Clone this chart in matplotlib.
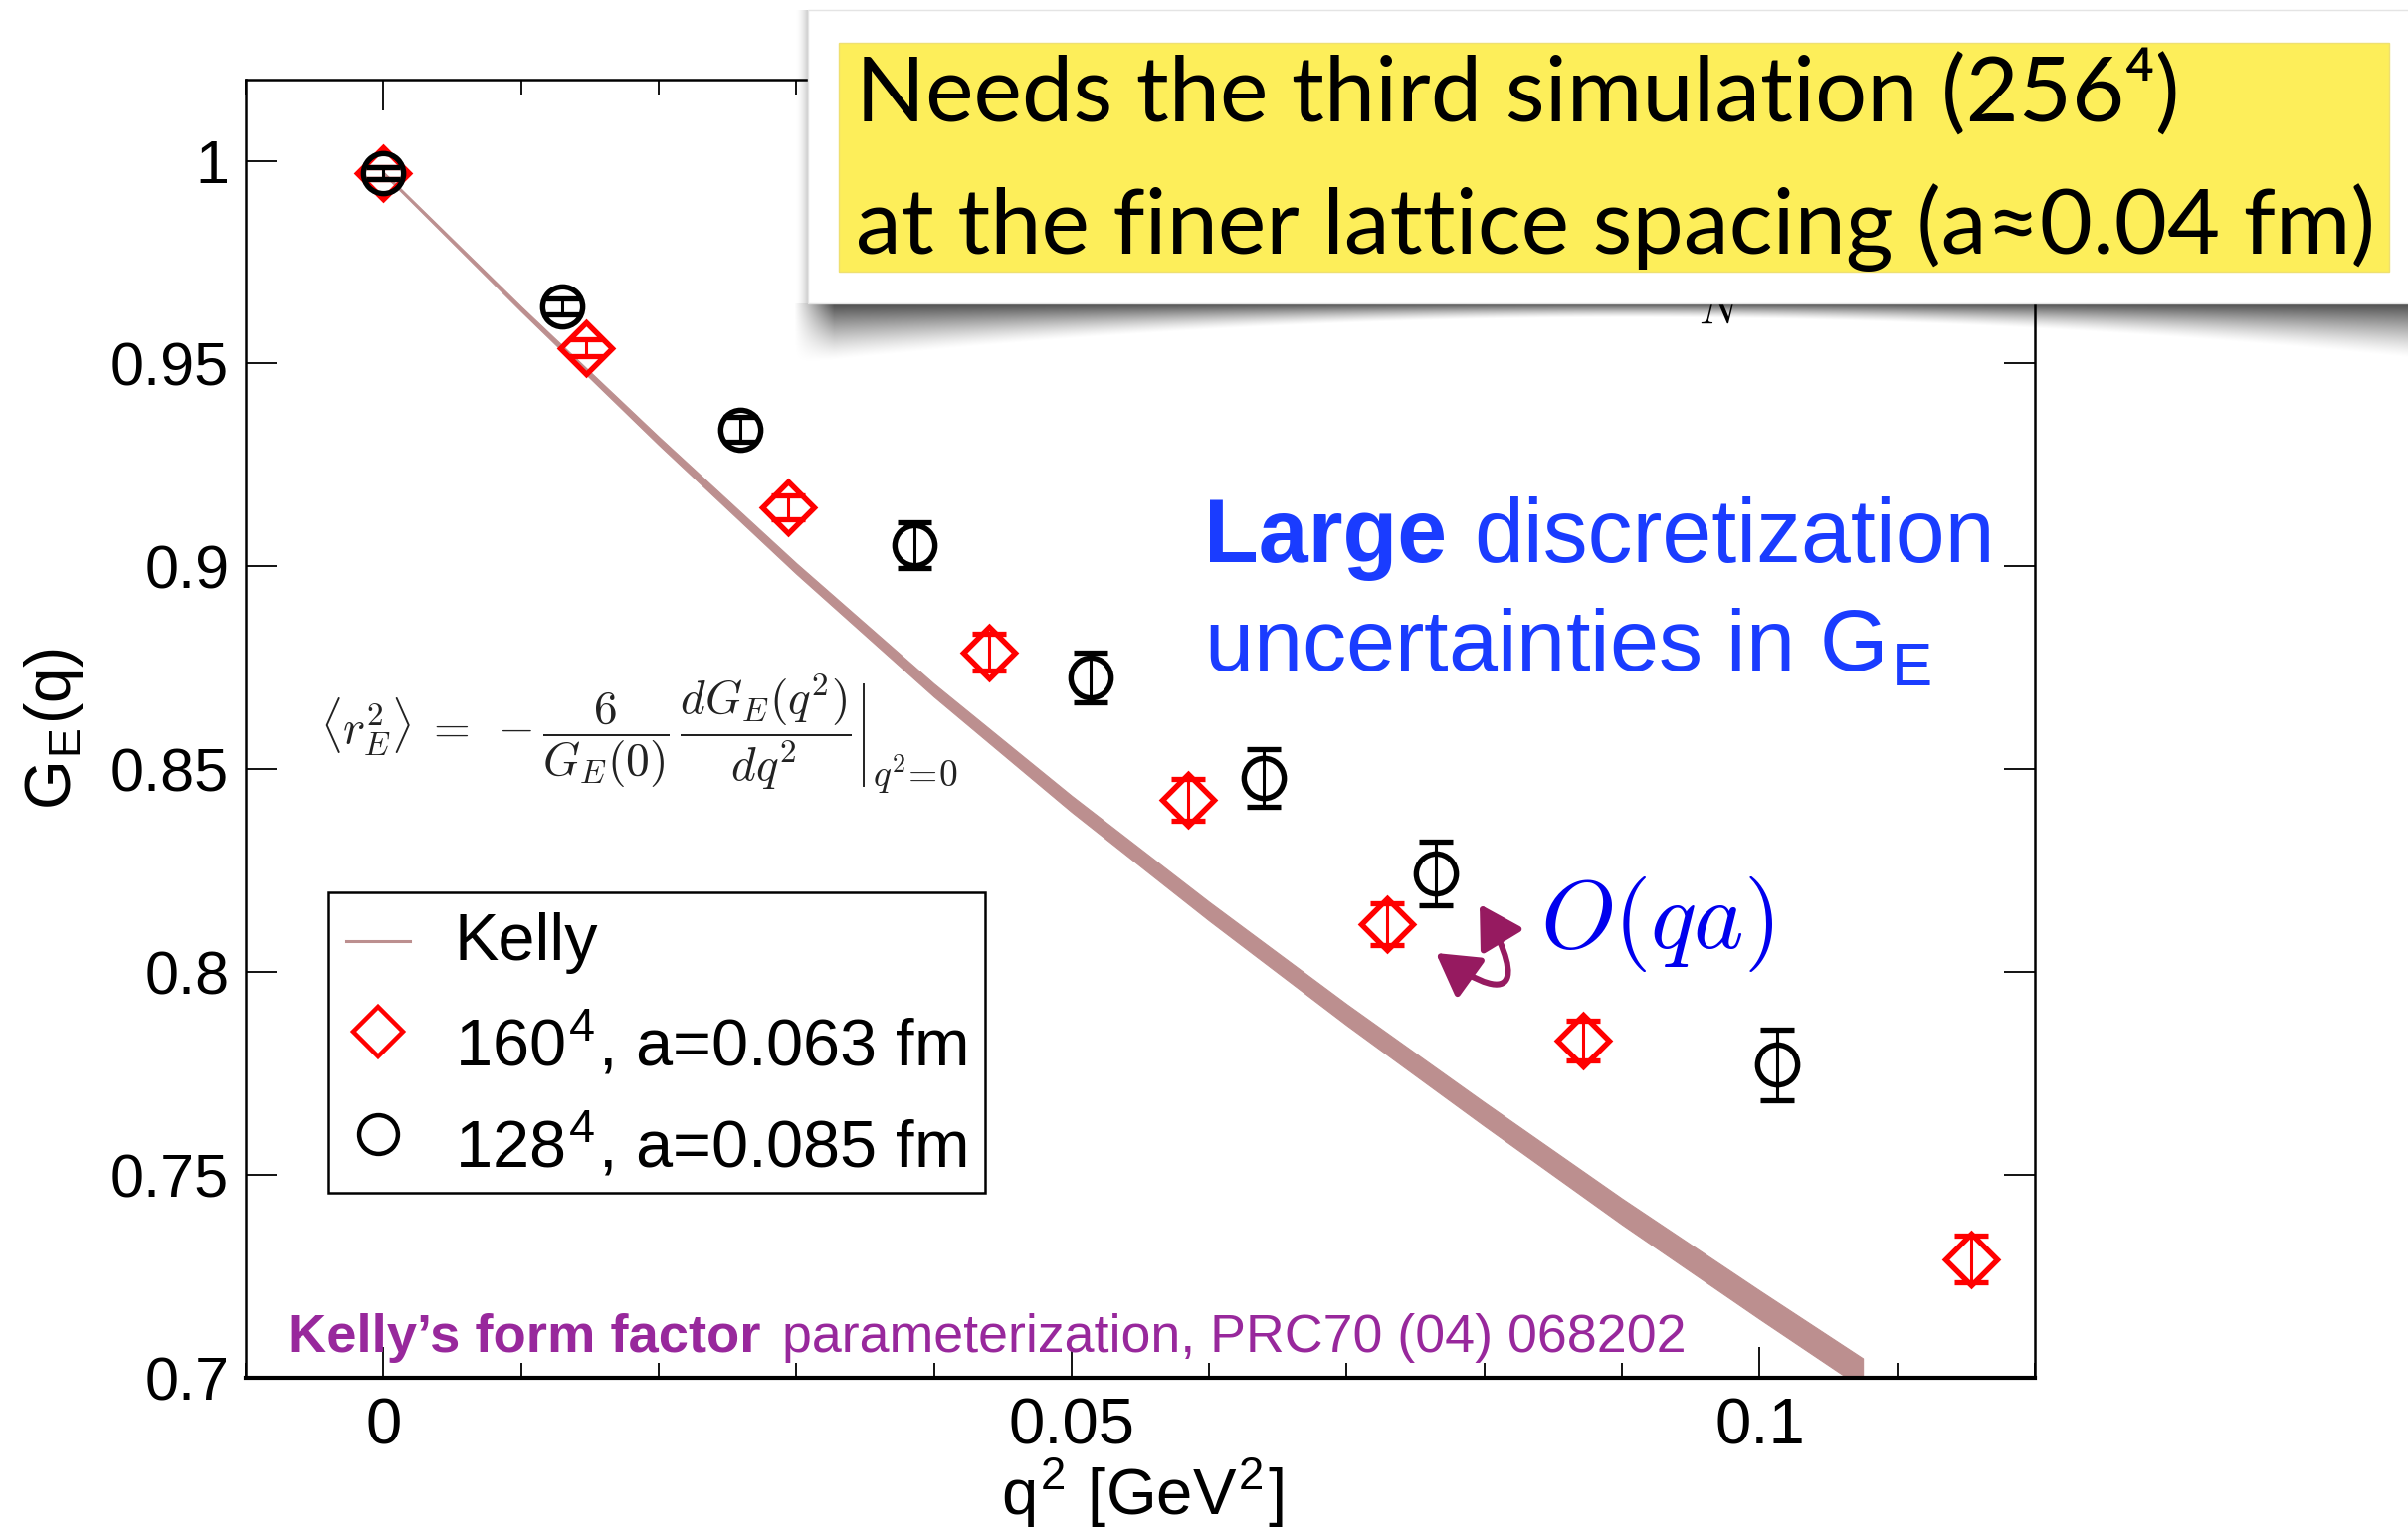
import numpy as np
import matplotlib
matplotlib.use("Agg")
import matplotlib.pyplot as plt
from matplotlib.patches import Rectangle, FancyArrowPatch
from matplotlib.lines import Line2D
from matplotlib.path import Path
from matplotlib.ticker import FixedLocator, MultipleLocator

plt.rcParams['font.family'] = ['Liberation Sans', 'DejaVu Sans']
plt.rcParams['mathtext.fontset'] = 'cm'

# ---------------- data ----------------
# Kelly parameterization (central value and half-width of the band)
kelly_q2 = [0.0, 0.01, 0.02, 0.03, 0.04, 0.05, 0.06, 0.07, 0.08, 0.09, 0.10, 0.1075]
kelly_ge = [0.997, 0.9635, 0.931, 0.8995, 0.8695, 0.8415, 0.815, 0.7895, 0.765, 0.741, 0.718, 0.7011]
kelly_err = [0.0003, 0.0006, 0.0010, 0.0013, 0.0016, 0.0020, 0.0023, 0.0026, 0.0029, 0.0032, 0.0035, 0.0037]

# 160^4 lattice, a = 0.063 fm
q2_160 = [0.0, 0.0147, 0.0294, 0.0440, 0.0585, 0.0729, 0.0872, 0.1154]
ge_160 = [0.997, 0.9539, 0.9146, 0.8788, 0.8424, 0.8118, 0.7831, 0.7293]
err_160 = [0.0015, 0.0020, 0.0030, 0.0045, 0.0052, 0.0052, 0.0050, 0.0057]

# 128^4 lattice, a = 0.085 fm
q2_128 = [0.0, 0.0130, 0.0259, 0.0386, 0.0514, 0.0640, 0.0765, 0.1013]
ge_128 = [0.997, 0.9641, 0.9338, 0.9053, 0.8726, 0.8479, 0.8243, 0.7772]
err_128 = [0.0015, 0.0020, 0.0030, 0.0057, 0.0062, 0.0071, 0.0078, 0.0087]

x_ticks = [0.0, 0.05, 0.1]
x_ticklabels = ['0', '0.05', '0.1']
y_ticks = [0.7, 0.75, 0.8, 0.85, 0.9, 0.95, 1.0]
y_ticklabels = ['0.7', '0.75', '0.8', '0.85', '0.9', '0.95', '1']
legend_labels = ['Kelly',
                 r'160$^{\mathregular{4}}$, a=0.063 fm',
                 r'128$^{\mathregular{4}}$, a=0.085 fm']

KELLY_C = '#bc8f8f'
PURPLE = '#98289c'
BLUE = '#1a3cff'
FORMULA_C = '#222222'

# ---------------- figure ----------------
W, H, DPI = 2420, 1541, 100
fig = plt.figure(figsize=(W / DPI, H / DPI), dpi=DPI)
fig.patch.set_facecolor('white')
renderer = fig.canvas.get_renderer()


def fx(x):
    return x / W


def fy(y):
    return 1 - y / H


def put(x, y, s, size, target_w=None, **kw):
    t = fig.text(fx(x), fy(y), s, fontsize=size, **kw)
    if target_w is not None:
        w = t.get_window_extent(renderer).width
        t.set_fontsize(size * target_w / w)
    return t


ax = fig.add_axes([fx(247), fy(1385), (2045 - 247) / W, (1385 - 80) / H])

# Kelly band
kq = np.array(kelly_q2)
kg = np.array(kelly_ge)
ke = np.array(kelly_err)
ax.fill_between(kq, kg - ke, kg + ke, color=KELLY_C, lw=0.8, ec=KELLY_C, zorder=2)

# lattice points
ax.plot(q2_160, ge_160, ls='none', marker='D', ms=26, mfc='none', mec='red',
        mew=3.9, zorder=3)
ax.errorbar(q2_160, ge_160, yerr=err_160, fmt='none', ecolor='red',
            elinewidth=2.2, capsize=12, capthick=3.8, zorder=3.5)
ax.plot(q2_128, ge_128, ls='none', marker='o', ms=29, mfc='none', mec='black',
        mew=3.9, zorder=4)
ax.errorbar(q2_128, ge_128, yerr=err_128, fmt='none', ecolor='black',
            elinewidth=2.2, capsize=12, capthick=3.8, zorder=4.5)

ax.set_xlim(-0.01, 0.12)
ax.set_ylim(0.7, 1.02)
ax.xaxis.set_major_locator(FixedLocator(x_ticks))
ax.set_xticklabels(x_ticklabels)
ax.xaxis.set_minor_locator(MultipleLocator(0.01))
ax.yaxis.set_major_locator(FixedLocator(y_ticks))
ax.set_yticklabels(y_ticklabels)
ax.tick_params(which='both', direction='in', top=True, right=True, width=1.3)
ax.tick_params(which='major', length=22)
ax.tick_params(which='minor', length=11)
ax.tick_params(axis='x', which='major', labelsize=47, pad=14)
ax.tick_params(axis='y', which='major', labelsize=44, pad=12)
for side in ['left', 'right', 'top']:
    ax.spines[side].set_linewidth(1.8)
ax.spines['bottom'].set_linewidth(3.0)

# axis titles
put(1148, 1501, r'q$^{\mathregular{2}}$ [GeV$^{\mathregular{2}}$]', 47,
    ha='center', va='center')
put(54, 733, r'G$_{\mathregular{E}}$(q)', 46, ha='center', va='center',
    rotation=90)

# legend
fig.add_artist(Rectangle((fx(330), fy(1199)), (990 - 330) / W, (1199 - 897) / H,
                         transform=fig.transFigure, fc='white', ec='black',
                         lw=1.8, zorder=6))
fig.add_artist(Line2D([fx(348), fx(412)], [fy(946), fy(946)], color=KELLY_C,
                      lw=2.2, transform=fig.transFigure, zorder=7))
fig.add_artist(Line2D([fx(380)], [fy(1037)], marker='D', ms=25, mfc='none',
                      mec='red', mew=3.2, transform=fig.transFigure, zorder=7))
fig.add_artist(Line2D([fx(380)], [fy(1140)], marker='o', ms=28, mfc='none',
                      mec='black', mew=3.2, transform=fig.transFigure, zorder=7))
for lab, yb in zip(legend_labels, [965, 1071, 1173]):
    put(457, yb, lab, 48, ha='left', va='baseline', zorder=7)

# radius definition: fractions, evaluation bar and its subscript
put(322, 736,
    r'$\langle r_E^2\rangle\;=\;-\dfrac{6}{G_E(0)}\,\dfrac{dG_E(q^2)}{dq^2}$',
    30, target_w=534, ha='left', va='center', color=FORMULA_C, zorder=3)
fig.add_artist(Line2D([fx(868), fx(868)], [fy(688), fy(790)], color=FORMULA_C,
                      lw=1.4, transform=fig.transFigure, zorder=3))
put(877, 790, r'$q^2\!=\!0$', 20, target_w=86, ha='left', va='baseline',
    color=FORMULA_C, zorder=3)

# discretization note
put(1210, 565, 'Large', 62, target_w=244, ha='left', va='baseline',
    color=BLUE, fontweight='bold')
put(1481, 565, 'discretization', 62, target_w=524, ha='left', va='baseline',
    color=BLUE)
put(1210, 675, r'uncertainties in G$_{\mathregular{E}}$', 62, target_w=732,
    ha='left', va='baseline', color=BLUE)

# O(qa) with curved double arrow
put(1548, 953, r'$O(qa)$', 70, target_w=234, ha='left', va='baseline',
    color='#0000ee')
arc_pts = [(1443, 958), (1532, 1022), (1527, 975), (1487, 909)]
arc = Path([(fx(px), fy(py)) for px, py in arc_pts],
           [Path.MOVETO, Path.CURVE4, Path.CURVE4, Path.CURVE4])
fig.add_artist(FancyArrowPatch(path=arc, transform=fig.transFigure,
                               arrowstyle='<|-|>,head_length=0.95,head_width=0.55',
                               mutation_scale=27, lw=4.4, color='#961a60',
                               zorder=8))

# reference line at the bottom
put(289, 1359, 'Kelly\u2019s form factor', 34, target_w=476, ha='left',
    va='baseline', color=PURPLE, fontweight='bold', zorder=6)
put(786, 1359, 'parameterization, PRC70 (04) 068202', 34, target_w=908,
    ha='left', va='baseline', color=PURPLE, zorder=6)

# fragment of a subscript peeking out under the callout
put(1707, 325, r'$N$', 34, ha='left', va='baseline', color='black', zorder=2)

# ---------------- callout box with curled shadow ----------------
x0, x1, ybox = 812, W, 305
sh_h = 80
cols = np.arange(x0 - 14, x1)
u = np.clip((cols - 1640) / 830.0, -1, 1)
depth = 14 + 46 * u ** 2
rows = np.arange(sh_h)[:, None]
frac = np.clip(1 - rows / depth[None, :], 0, 1)
alpha = 0.7 * frac ** 1.3
edge_fade = np.clip((cols - (x0 - 14)) / 40.0, 0, 1)
alpha *= edge_fade[None, :]
shadow = np.zeros((sh_h, cols.size, 4))
shadow[..., 3] = alpha
fig.figimage(shadow, xo=x0 - 14, yo=H - ybox - sh_h, origin='upper', zorder=4)

# faint shadow on the left side of the box
side_w = 14
sc = np.arange(side_w)
side = np.zeros((ybox - 10, side_w, 4))
side[..., 3] = 0.22 * (sc / side_w)[None, :] ** 2
fig.figimage(side, xo=x0 - side_w, yo=H - ybox, origin='upper', zorder=4)

fig.add_artist(Rectangle((fx(x0), fy(ybox)), (x1 - x0) / W + 0.01, (ybox - 10) / H,
                         transform=fig.transFigure, fc='white', ec='#e4e4e4',
                         lw=1.0, zorder=5))
fig.add_artist(Rectangle((fx(843), fy(273)), (2401 - 843) / W, (273 - 43) / H,
                         transform=fig.transFigure, fc='#fdee5a', ec='#efe070',
                         lw=1.0, zorder=6))
yl_font = ['Lato', 'Liberation Sans', 'DejaVu Sans']
t2 = put(860, 255, 'at the finer lattice spacing (a\u22480.04 fm)', 58,
         target_w=1525, ha='left', va='baseline', family=yl_font, zorder=7)
put(860, 122, 'Needs the third simulation (256\u2074)', t2.get_fontsize(),
    ha='left', va='baseline', family=yl_font, zorder=7)

fig.savefig('out.png', dpi=DPI, facecolor='white')
